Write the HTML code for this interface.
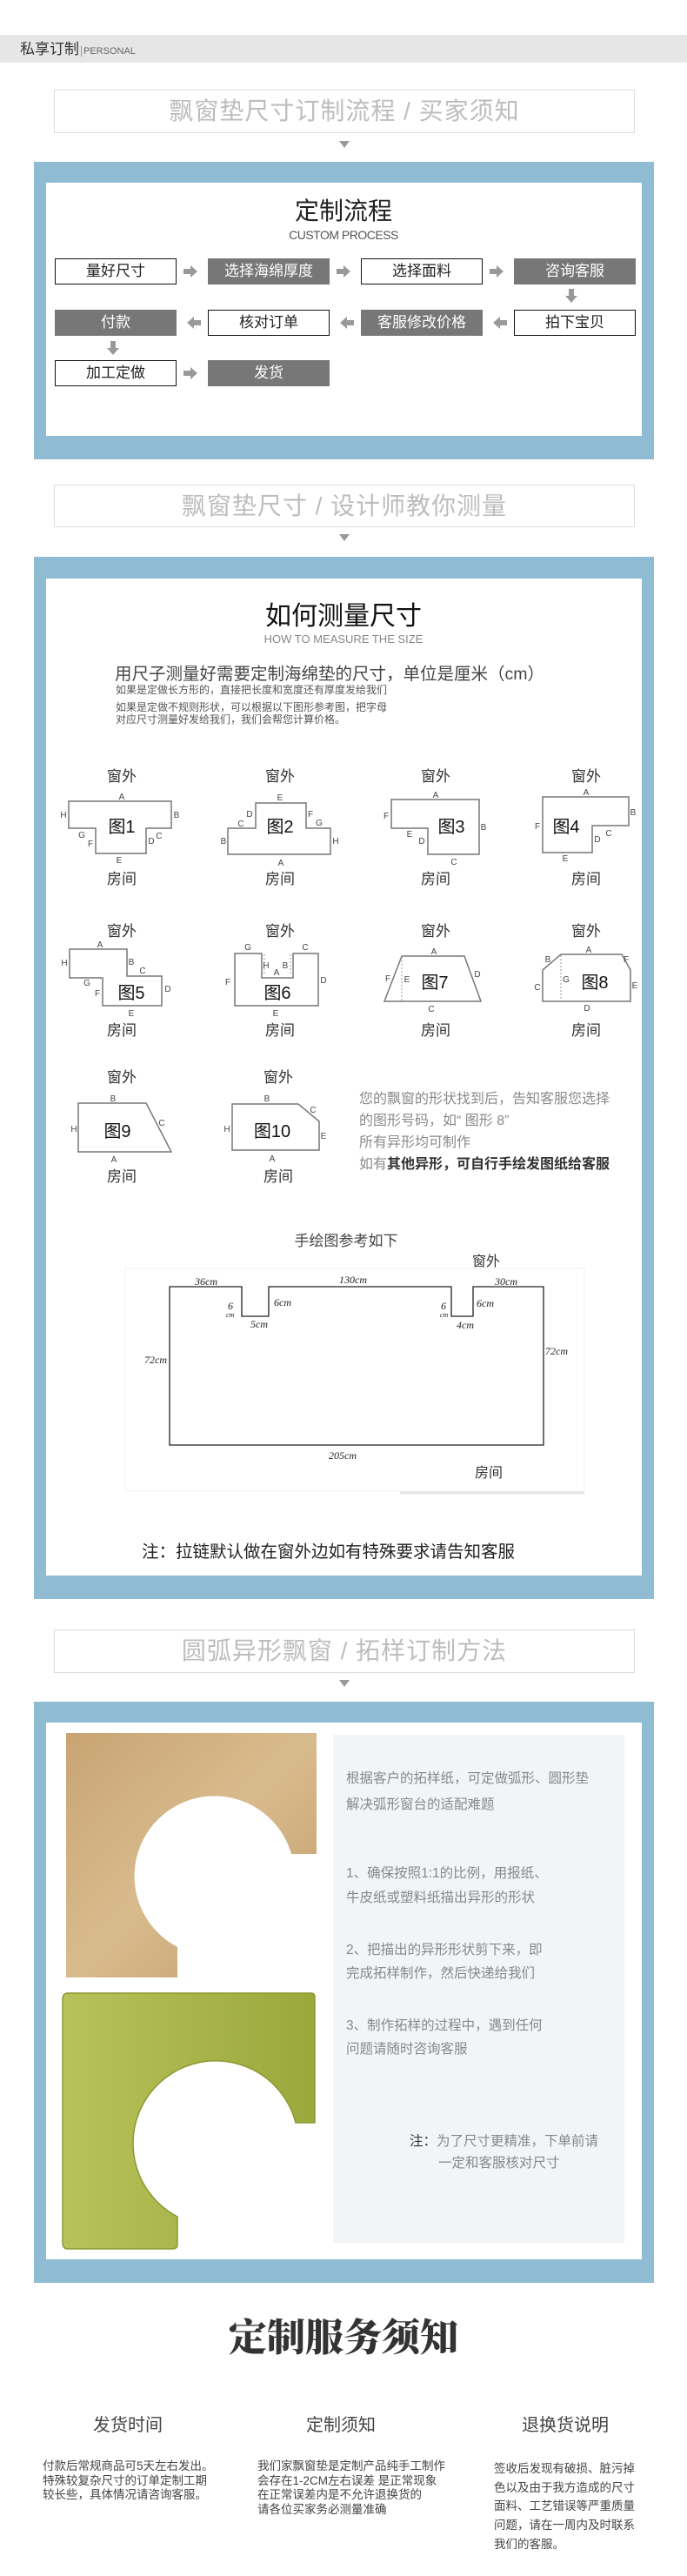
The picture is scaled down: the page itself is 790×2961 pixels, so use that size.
<!DOCTYPE html>
<html><head><meta charset="utf-8"><style>
*{margin:0;padding:0;box-sizing:border-box}
body{width:790px;height:2961px;background:#fff;position:relative;overflow:hidden;font-family:"Liberation Sans","Noto Sans CJK SC",sans-serif;color:#333}
.a{position:absolute}
.tb{position:absolute;left:62px;width:668px;border:1px solid #ddd;background:#fff;text-align:center;color:#bdbdbd;font-size:28px;letter-spacing:1px}
.tri{position:absolute;left:390px;width:0;height:0;border-left:6px solid transparent;border-right:6px solid transparent;border-top:8px solid #999}
.blue{position:absolute;left:39px;width:713px;background:#8fbcd2}
.wh{position:absolute;left:53px;width:685px;background:#fff}
.fb{position:absolute;width:140px;height:30px;line-height:28px;text-align:center;font-size:17px;border:1px solid #111;background:#fff;color:#222}
.fb.g{background:#777;border-color:#777;color:#fff}
.c{text-align:center}
</style></head><body>

<div class="a" style="left:0;top:40px;width:790px;height:32px;background:#e6e6e6"></div>
<div class="a" style="left:23px;top:47px;font-size:17px;color:#333;line-height:20px">私享订制<span style="font-size:11px;color:#666;border-left:1px solid #999;padding-left:2px;margin-left:2px">PERSONAL</span></div>

<div class="tb" style="top:103px;height:50px;line-height:48px">飘窗垫尺寸订制流程 / 买家须知</div>
<div class="tri" style="top:162px"></div>

<div class="blue" style="top:186px;height:342px"></div>
<div class="wh" style="top:210px;height:291px"></div>
<div class="a c" style="left:295px;width:200px;top:226px;font-size:28px;color:#222;line-height:34px">定制流程</div>
<div class="a c" style="left:295px;width:200px;top:262px;font-size:14px;color:#555;letter-spacing:-0.5px">CUSTOM PROCESS</div>

<div class="fb" style="left:63px;top:297px">量好尺寸</div>
<div class="fb g" style="left:239px;top:297px">选择海绵厚度</div>
<div class="fb" style="left:415px;top:297px">选择面料</div>
<div class="fb g" style="left:591px;top:297px">咨询客服</div>
<div class="fb g" style="left:63px;top:356px">付款</div>
<div class="fb" style="left:239px;top:356px">核对订单</div>
<div class="fb g" style="left:415px;top:356px">客服修改价格</div>
<div class="fb" style="left:591px;top:356px">拍下宝贝</div>
<div class="fb" style="left:63px;top:414px">加工定做</div>
<div class="fb g" style="left:239px;top:414px">发货</div>

<svg class="a" style="left:0;top:0" width="790" height="2961">
<defs>
<g id="ar"><path d="M-8,-3 h8 v-4 l8,7 l-8,7 v-4 h-8z" fill="#999"/></g>
</defs>
<use href="#ar" x="219" y="312"/><use href="#ar" x="395" y="312"/><use href="#ar" x="571" y="312"/>
<use href="#ar" transform="translate(223,371) rotate(180)"/><use href="#ar" transform="translate(399,371) rotate(180)"/><use href="#ar" transform="translate(575,371) rotate(180)"/>
<use href="#ar" transform="translate(657,340) rotate(90)"/><use href="#ar" transform="translate(130,400) rotate(90)"/>
<use href="#ar" x="219" y="429"/>
</svg>

<div class="tb" style="top:557px;height:49px;line-height:47px">飘窗垫尺寸 / 设计师教你测量</div>
<div class="tri" style="top:614px"></div>

<div class="blue" style="top:640px;height:1198px"></div>
<div class="wh" style="top:665px;height:1146px"></div>

<div class="a c" style="left:245px;width:300px;top:692px;font-size:30px;color:#111;line-height:34px">如何测量尺寸</div>
<div class="a c" style="left:245px;width:300px;top:727px;font-size:13px;color:#888">HOW TO MEASURE THE SIZE</div>
<div class="a" style="left:132px;top:758px;font-size:19.5px;color:#444;white-space:nowrap">用尺子测量好需要定制海绵垫的尺寸，单位是厘米（cm）</div>
<div class="a" style="left:133px;top:786px;font-size:12px;color:#555;line-height:14px;white-space:nowrap">如果是定做长方形的，直接把长度和宽度还有厚度发给我们</div>
<div class="a" style="left:133px;top:806px;font-size:12px;color:#555;line-height:14px;white-space:nowrap">如果是定做不规则形状，可以根据以下图形参考图，把字母<br>对应尺寸测量好发给我们，我们会帮您计算价格。</div>

<svg class="a" style="left:0;top:0" width="790" height="2961" font-family="Liberation Sans, Noto Sans CJK SC, sans-serif">
<g fill="#fff" stroke="#777" stroke-width="1.5">
<path d="M79,921H197V952H168V981H110V952H79Z"/>
<path d="M294,923H352V952H380V982H262V952H294Z"/>
<path d="M450,919H551V982H492V952H450Z"/>
<path d="M624,916H723V949H681V980H624Z"/>
<path d="M80,1091H146V1122H186V1156H118V1124H80Z"/>
<path d="M270,1096H301V1124H337V1096H366V1156H270Z"/>
<path d="M462,1099H534L553,1151H442Z"/>
<path d="M645,1097H715L725,1115V1151H624V1115Z"/>
<path d="M90,1268H168L197,1324H90Z"/>
<path d="M267,1269H343L367,1289V1322H267Z"/>
</g>
<g stroke="#999" stroke-dasharray="2,2" stroke-width="1"><line x1="462" y1="1100" x2="462" y2="1150"/><line x1="645" y1="1098" x2="645" y2="1150"/><line x1="304" y1="1097" x2="304" y2="1121"/><line x1="334" y1="1097" x2="334" y2="1121"/></g>
<g font-size="20" fill="#111" text-anchor="middle">
<text x="140" y="957">图1</text><text x="322" y="957">图2</text><text x="519" y="957">图3</text><text x="651" y="957">图4</text>
<text x="151" y="1148">图5</text><text x="319" y="1148">图6</text><text x="500" y="1136">图7</text><text x="684" y="1136">图8</text>
<text x="135" y="1307">图9</text><text x="313" y="1307">图10</text>
</g>
<g font-size="17" fill="#333" text-anchor="middle">
<text x="140" y="898">窗外</text><text x="322" y="898">窗外</text><text x="501" y="898">窗外</text><text x="674" y="898">窗外</text>
<text x="140" y="1016">房间</text><text x="322" y="1016">房间</text><text x="501" y="1016">房间</text><text x="674" y="1016">房间</text>
<text x="140" y="1076">窗外</text><text x="322" y="1076">窗外</text><text x="501" y="1076">窗外</text><text x="674" y="1076">窗外</text>
<text x="140" y="1190">房间</text><text x="322" y="1190">房间</text><text x="501" y="1190">房间</text><text x="674" y="1190">房间</text>
<text x="140" y="1244">窗外</text><text x="320" y="1244">窗外</text>
<text x="140" y="1358">房间</text><text x="320" y="1358">房间</text>
</g>
<g font-size="10" fill="#444" text-anchor="middle">
<text x="140" y="919">A</text><text x="203" y="940">B</text><text x="73" y="940">H</text><text x="94" y="963">G</text><text x="104" y="973">F</text><text x="174" y="970">D</text><text x="183" y="964">C</text><text x="137" y="992">E</text>
<text x="322" y="920">E</text><text x="287" y="939">D</text><text x="277" y="950">C</text><text x="357" y="939">F</text><text x="367" y="949">G</text><text x="257" y="970">B</text><text x="386" y="970">H</text><text x="323" y="995">A</text>
<text x="501" y="917">A</text><text x="444" y="941">F</text><text x="556" y="954">B</text><text x="471" y="962">E</text><text x="485" y="970">D</text><text x="522" y="994">C</text>
<text x="674" y="914">A</text><text x="728" y="937">B</text><text x="618" y="953">F</text><text x="700" y="961">C</text><text x="687" y="968">D</text><text x="650" y="990">E</text>
<text x="115" y="1089">A</text><text x="74" y="1110">H</text><text x="151" y="1109">B</text><text x="164" y="1119">C</text><text x="100" y="1133">G</text><text x="112" y="1145">F</text><text x="193" y="1140">D</text><text x="151" y="1168">E</text>
<text x="285" y="1092">G</text><text x="351" y="1092">C</text><text x="306" y="1113">H</text><text x="318" y="1121">A</text><text x="328" y="1113">B</text><text x="262" y="1132">F</text><text x="372" y="1130">D</text><text x="317" y="1168">E</text>
<text x="499" y="1097">A</text><text x="446" y="1128">F</text><text x="468" y="1129">E</text><text x="549" y="1123">D</text><text x="496" y="1163">C</text>
<text x="677" y="1095">A</text><text x="630" y="1106">B</text><text x="720" y="1106">F</text><text x="618" y="1138">C</text><text x="651" y="1129">G</text><text x="730" y="1136">E</text><text x="675" y="1162">D</text>
<text x="130" y="1266">B</text><text x="85" y="1301">H</text><text x="186" y="1294">C</text><text x="131" y="1336">A</text>
<text x="307" y="1266">B</text><text x="360" y="1279">C</text><text x="261" y="1301">H</text><text x="372" y="1309">E</text><text x="313" y="1335">A</text>
</g>
<g font-size="16" fill="#8a8a8a">
<text x="413" y="1268">您的飘窗的形状找到后，告知客服您选择</text>
<text x="413" y="1293">的图形号码，如“ 图形 8”</text>
<text x="413" y="1318">所有异形均可制作</text>
<text x="413" y="1343">如有<tspan fill="#333" font-weight="bold">其他异形，可自行手绘发图纸给客服</tspan></text>
</g>
<text x="398" y="1432" font-size="17" fill="#444" text-anchor="middle">手绘图参考如下</text>
<text x="559" y="1455" font-size="16" fill="#333" text-anchor="middle">窗外</text>
<rect x="144" y="1458" width="528" height="256" fill="#fff" stroke="#f0f0f0"/>
<path d="M460,1716 H672" stroke="#e4e4e4" stroke-width="3"/>
<path d="M195,1479H278V1513H309V1479H519V1513H544V1479H625V1661H195Z" fill="none" stroke="#222" stroke-width="1.3"/>
<g font-family="Liberation Serif, serif" font-style="italic" font-size="12" fill="#222">
<text x="224" y="1477">36cm</text><text x="390" y="1475">130cm</text><text x="569" y="1477">30cm</text>
<text x="262" y="1505">6</text><text x="260" y="1514" font-size="8">cm</text>
<text x="315" y="1501">6cm</text><text x="288" y="1526">5cm</text>
<text x="507" y="1505">6</text><text x="506" y="1514" font-size="8">cm</text>
<text x="548" y="1502">6cm</text><text x="525" y="1527">4cm</text>
<text x="166" y="1567">72cm</text><text x="627" y="1557">72cm</text>
<text x="378" y="1677">205cm</text>
</g>
<text x="546" y="1698" font-size="16" fill="#333">房间</text>
<text x="163" y="1790" font-size="19.5" fill="#222">注：拉链默认做在窗外边如有特殊要求请告知客服</text>
</svg>

<div class="tb" style="top:1873px;height:50px;line-height:48px">圆弧异形飘窗 / 拓样订制方法</div>
<div class="tri" style="top:1931px"></div>

<div class="blue" style="top:1956px;height:668px"></div>
<div class="wh" style="top:1980px;height:617px"></div>
<div class="a" style="left:383px;top:1994px;width:335px;height:584px;background:#f1f5f8"></div>

<svg class="a" style="left:0;top:0" width="790" height="2961">
<defs>
<linearGradient id="kr" x1="0" y1="0" x2="1" y2="1"><stop offset="0" stop-color="#c9a473"/><stop offset="0.5" stop-color="#d8bb8d"/><stop offset="1" stop-color="#c29a68"/></linearGradient>
<linearGradient id="gr" x1="0" y1="0" x2="1" y2="0"><stop offset="0" stop-color="#b8c25a"/><stop offset="1" stop-color="#9aa83c"/></linearGradient>
</defs>
<path d="M76,1992H364V2131H335A92,92 0 1 0 204,2238V2273H76Z" fill="url(#kr)"/>
<path d="M78,2291H358Q362,2291 362,2296V2440H340A95,95 0 1 0 204,2548V2580Q204,2585 198,2585H78Q72,2585 72,2578V2298Q72,2291 78,2291Z" fill="url(#gr)" stroke="#8c9a32" stroke-width="1.5"/>
<g font-size="15.5" fill="#888">
<text x="398" y="2049">根据客户的拓样纸，可定做弧形、圆形垫</text>
<text x="398" y="2079">解决弧形窗台的适配难题</text>
<text x="398" y="2158">1、确保按照1:1的比例，用报纸、</text>
<text x="398" y="2186">牛皮纸或塑料纸描出异形的形状</text>
<text x="398" y="2246">2、把描出的异形形状剪下来，即</text>
<text x="398" y="2273">完成拓样制作，然后快递给我们</text>
<text x="398" y="2333">3、制作拓样的过程中，遇到任何</text>
<text x="398" y="2360">问题请随时咨询客服</text>
<text x="471" y="2466"><tspan fill="#333">注：</tspan>为了尺寸更精准，下单前请</text>
<text x="504" y="2491">一定和客服核对尺寸</text>
</g>
</svg>

<div class="a c" style="left:195px;width:400px;top:2660px;font-size:44px;font-weight:900;color:#333;font-family:'Liberation Serif','Noto Serif CJK SC',serif;line-height:56px">定制服务须知</div>
<div class="a c" style="left:67px;width:160px;top:2771px;font-size:20px;color:#444">发货时间</div>
<div class="a c" style="left:312px;width:160px;top:2771px;font-size:20px;color:#444">定制须知</div>
<div class="a c" style="left:570px;width:160px;top:2771px;font-size:20px;color:#444">退换货说明</div>
<div class="a" style="left:49px;top:2827px;font-size:13.5px;line-height:16.5px;color:#444;white-space:nowrap">付款后常规商品可5天左右发出。<br>特殊较复杂尺寸的订单定制工期<br>较长些，具体情况请咨询客服。</div>
<div class="a" style="left:296px;top:2827px;font-size:13.5px;line-height:16.5px;color:#444;white-space:nowrap">我们家飘窗垫是定制产品纯手工制作<br>会存在1-2CM左右误差 是正常现象<br>在正常误差内是不允许退换货的<br>请各位买家务必测量准确</div>
<div class="a" style="left:568px;top:2827px;font-size:13.5px;line-height:21.7px;color:#444;white-space:nowrap">签收后发现有破损、脏污掉<br>色以及由于我方造成的尺寸<br>面料、工艺错误等严重质量<br>问题，请在一周内及时联系<br>我们的客服。</div>
</body></html>
